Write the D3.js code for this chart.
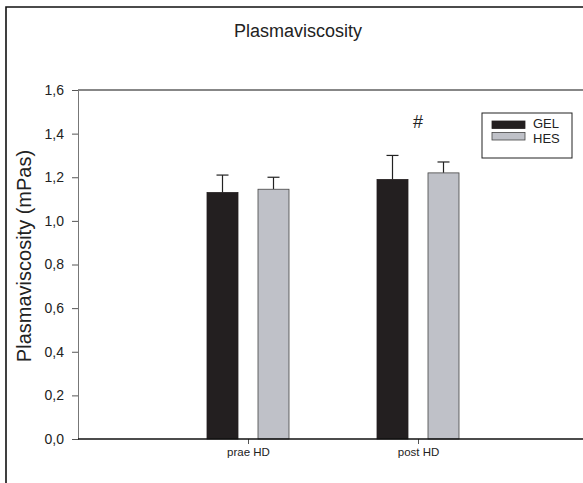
<!DOCTYPE html>
<html>
<head>
<meta charset="utf-8">
<script src="https://cdn.jsdelivr.net/npm/d3@7"></script>
<style>
  body { margin: 0; background: #fff; }
  svg { font-family: "Liberation Sans", Arial, sans-serif; display: block; }
</style>
</head>
<body>
<div id="chart"></div>
<script>
// data
const categories = ['prae HD', 'post HD'];
const series = ['GEL', 'HES'];
const gelValues = [1.13, 1.19];
const gelErrors = [0.08, 0.11];
const hesValues = [1.145, 1.22];
const hesErrors = [0.055, 0.05];
const yTicks = [0, 0.2, 0.4, 0.6, 0.8, 1.0, 1.2, 1.4, 1.6];
const colors = { GEL: '#231f20', HES: '#bfc1c8' };

var width = 583, height = 483;
var plot = { left: 78, right: 588, top: 90, bottom: 439 };

const svg = d3.select('#chart')
  .append('svg')
  .attr('width', width)
  .attr('height', height);

// outer frame (top + left only visible)
svg.append('path')
  .attr('d', 'M6,' + height + 'V7H' + width)
  .attr('fill', 'none')
  .attr('stroke', '#111')
  .attr('stroke-width', 1.6);

const x = d3.scaleLinear().domain([0, 3]).range([plot.left, plot.right]);
const y = d3.scaleLinear().domain([0, 1.6]).range([plot.bottom, plot.top]);

const barW = 31, gap = 20;

// top line of plot
svg.append('line')
  .attr('x1', plot.left).attr('x2', width)
  .attr('y1', plot.top).attr('y2', plot.top)
  .attr('stroke', '#111').attr('stroke-width', 1.2);

// y axis
const yAxis = svg.append('g')
  .attr('transform', 'translate(' + plot.left + ',0)')
  .call(d3.axisLeft(y).tickValues(yTicks).tickSize(6).tickPadding(8)
    .tickFormat(d => d3.format('.1f')(d).replace('.', ',')));
yAxis.attr('font-size', 14).attr('font-family', '"Liberation Sans", Arial, sans-serif');
yAxis.select('.domain').attr('stroke', '#777');
yAxis.selectAll('.tick line').attr('stroke', '#555');
yAxis.selectAll('text').attr('fill', '#222');

// bars
const rows = [];
categories.forEach((c, i) => {
  rows.push({ cat: i + 1, s: 'GEL', v: gelValues[i], e: gelErrors[i], off: -(gap / 2 + barW) });
  rows.push({ cat: i + 1, s: 'HES', v: hesValues[i], e: hesErrors[i], off: gap / 2 });
});

const g = svg.append('g');
g.selectAll('line.err')
  .data(rows)
  .enter()
  .append('line')
  .attr('x1', d => x(d.cat) + d.off + barW / 2)
  .attr('x2', d => x(d.cat) + d.off + barW / 2)
  .attr('y1', d => y(d.v))
  .attr('y2', d => y(d.v + d.e))
  .attr('stroke', '#222').attr('stroke-width', 1.2);
g.selectAll('line.cap')
  .data(rows)
  .enter()
  .append('line')
  .attr('x1', d => x(d.cat) + d.off + barW / 2 - 6)
  .attr('x2', d => x(d.cat) + d.off + barW / 2 + 6)
  .attr('y1', d => y(d.v + d.e))
  .attr('y2', d => y(d.v + d.e))
  .attr('stroke', '#222').attr('stroke-width', 1.2);
g.selectAll('rect')
  .data(rows)
  .enter()
  .append('rect')
  .attr('x', d => x(d.cat) + d.off)
  .attr('y', d => y(d.v))
  .attr('width', barW)
  .attr('height', d => y(0) - y(d.v))
  .attr('fill', d => colors[d.s])
  .attr('stroke', d => d.s === 'GEL' ? '#231f20' : '#444')
  .attr('stroke-width', 0.8);

// x axis
const xAxis = svg.append('g')
  .attr('transform', 'translate(0,' + plot.bottom + ')')
  .call(d3.axisBottom(x).tickValues([1, 2]).tickSize(5).tickPadding(4)
    .tickFormat(d => categories[d - 1]));
xAxis.attr('font-size', 11.5).attr('font-family', '"Liberation Sans", Arial, sans-serif');
xAxis.select('.domain').remove();
xAxis.selectAll('.tick line').attr('stroke', '#555');
xAxis.selectAll('text').attr('fill', '#222');
svg.append('line')
  .attr('x1', plot.left).attr('x2', width)
  .attr('y1', plot.bottom).attr('y2', plot.bottom)
  .attr('stroke', '#111').attr('stroke-width', 1.4);

// title and y label
svg.append('text')
  .attr('x', 298).attr('y', 37)
  .attr('text-anchor', 'middle')
  .attr('font-size', 18).attr('fill', '#222')
  .text('Plasmaviscosity');
svg.append('text')
  .attr('transform', 'translate(31,256) rotate(-90)')
  .attr('text-anchor', 'middle')
  .attr('font-size', 20).attr('fill', '#222')
  .text('Plasmaviscosity (mPas)');

// significance mark
svg.append('text')
  .attr('x', x(2)).attr('y', 128)
  .attr('text-anchor', 'middle')
  .attr('font-size', 18).attr('fill', '#222')
  .text('#');

// legend
const lg = svg.append('g').attr('transform', 'translate(482,113)');
lg.append('rect')
  .attr('width', 90).attr('height', 45)
  .attr('fill', '#fff').attr('stroke', '#222').attr('stroke-width', 1);
series.forEach((s, i) => {
  lg.append('rect')
    .attr('x', 10).attr('y', 8 + i * 11.5)
    .attr('width', 33).attr('height', 7.5)
    .attr('fill', colors[s])
    .attr('stroke', s === 'GEL' ? '#231f20' : '#444').attr('stroke-width', 0.8);
  lg.append('text')
    .attr('x', 51).attr('y', 15 + i * 15)
    .attr('font-size', 13).attr('fill', '#222')
    .text(s);
});
</script>
</body>
</html>
